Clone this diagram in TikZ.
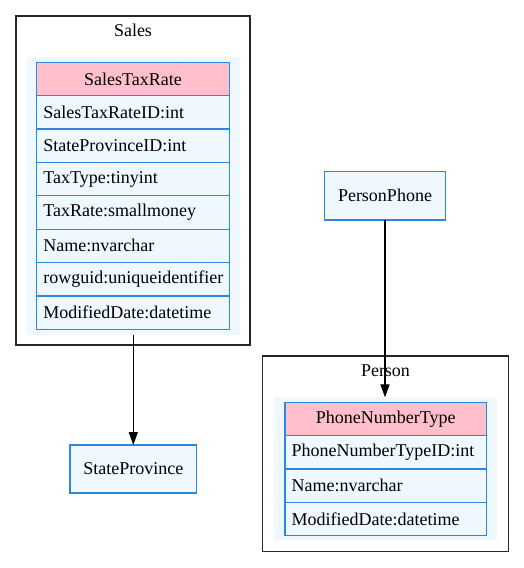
\documentclass[tikz,border=0pt]{standalone}
\usepackage{fontspec}
\setmainfont{Liberation Serif}
\usetikzlibrary{arrows.meta}
\definecolor{tblue}{RGB}{45,135,225}
\definecolor{hdr}{RGB}{255,192,203}
\definecolor{cellbg}{RGB}{240,248,255}
\begin{document}
\begin{tikzpicture}[x=1pt,y=-1pt,
  every node/.style={inner sep=0pt, outer sep=0pt, font=\fontsize{18}{20}\selectfont},
  cluster/.style={draw=black!85, line width=1.3pt, anchor=north west},
  clbg/.style={fill=cellbg, draw=none, anchor=north west},
  cellS/.style={draw=tblue, fill=cellbg, line width=1.2pt, minimum height=33.375pt, text width=179.4pt, inner xsep=6.6pt, align=left, anchor=north},
  cellP/.style={draw=tblue, fill=cellbg, line width=1.2pt, minimum height=33.35pt, text width=188.5pt, inner xsep=6.6pt, align=left, anchor=north},
  hdrS/.style={cellS, fill=hdr, align=center},
  hdrP/.style={cellP, fill=hdr, align=center},
  entity/.style={draw=tblue, fill=cellbg, line width=1.2pt},
  link/.style={line width=1.3pt, -{Triangle[length=13pt,width=9pt]}}
]
\useasboundingbox (0,0) rectangle (524,568);
% Sales cluster
\node[cluster, minimum width=234pt, minimum height=329pt] (sales) at (16,16) {};
\node (saleslbl) at (133,30.7) {Sales};
\node[clbg, minimum width=213.3pt, minimum height=278pt] (salesbg) at (26.7,57) {};
\node[hdrS] (str) at (133,62.3) {SalesTaxRate};
\node[cellS] (str1) at (str.south) {SalesTaxRateID:int};
\node[cellS] (str2) at (str1.south) {StateProvinceID:int};
\node[cellS] (str3) at (str2.south) {TaxType:tinyint};
\node[cellS] (str4) at (str3.south) {TaxRate:smallmoney};
\node[cellS] (str5) at (str4.south) {Name:nvarchar};
\node[cellS] (str6) at (str5.south) {rowguid:uniqueidentifier};
\node[cellS] (str7) at (str6.south) {ModifiedDate:datetime};
% Person cluster
\node[cluster, minimum width=245.6pt, minimum height=195.7pt] (person) at (262.7,356) {};
\node (personlbl) at (385.5,370.7) {Person};
\node[clbg, minimum width=222.7pt, minimum height=142.7pt] (personbg) at (274,397.3) {};
\node[hdrP] (pnt) at (385.8,402.3) {PhoneNumberType};
\node[cellP] (pnt1) at (pnt.south) {PhoneNumberTypeID:int};
\node[cellP] (pnt2) at (pnt1.south) {Name:nvarchar};
\node[cellP] (pnt3) at (pnt2.south) {ModifiedDate:datetime};
% standalone entities
\node[entity, minimum width=126.7pt, minimum height=48pt] (state) at (133.3,469) {StateProvince};
\node[entity, minimum width=121.4pt, minimum height=48.3pt] (pp) at (385,195.8) {PersonPhone};
% edges
\draw[link] (salesbg.south -| state.north) -- (state.north);
\draw[link] (pp.south) -- (pp.south |- personbg.north);
\end{tikzpicture}
\end{document}
